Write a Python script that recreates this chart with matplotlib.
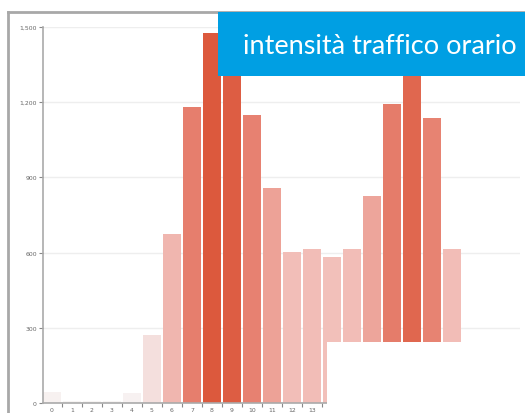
import matplotlib
matplotlib.use("Agg")
import matplotlib.pyplot as plt
from matplotlib.patches import Rectangle
from matplotlib.lines import Line2D
from matplotlib.colors import LinearSegmentedColormap
import numpy as np

hours = list(range(24))
values = [45, 8, 8, 8, 40, 270, 675, 1180, 1475, 1440, 1148, 856,
          604, 616, 584, 616, 824, 1193, 1360, 1136, 616, 200, 120, 60]
y_ticks = [0, 300, 600, 900, 1200, 1500]
y_tick_labels = ["0", "300", "600", "900", "1,200", "1,500"]
title = "intensità traffico orario"

W, H = 525, 414
fig = plt.figure(figsize=(W / 100, H / 100), dpi=100)
fig.patch.set_facecolor("white")

def fx(px):
    return px / W

def fy(py):
    return 1 - py / H

ax = fig.add_axes([fx(43), fy(404), fx(520) - fx(43), fy(28) - fy(404)])
ax.set_facecolor("white")

cmap = LinearSegmentedColormap.from_list(
    "heat", [(0.0, "#f7f4f4"), (0.18, "#f4dfdd"), (0.41, "#f2beb8"),
             (0.8, "#e67e6d"), (1.0, "#dc593d")])
vmax = max(values)
colors = [cmap(v / vmax) for v in values]
ax.bar(hours, values, width=0.9, color=colors, edgecolor="none", zorder=2)

ax.set_xlim(-0.45, 23.4)
ax.set_ylim(0, 1500)
ax.set_yticks(y_ticks)
ax.set_yticklabels(y_tick_labels)
ax.set_xticks(hours)
ax.set_xticklabels([str(h) for h in hours])
ax.set_xticks([h + 0.5 for h in hours[:-1]], minor=True)
ax.tick_params(axis="x", which="major", length=0, labelsize=4.4, colors="#666666", pad=3)
ax.tick_params(axis="x", which="minor", length=3, width=0.8, color="#888888")
ax.tick_params(axis="y", which="major", length=3, width=0.8, color="#888888",
               labelsize=4.4, labelcolor="#666666", pad=1.5)
for s in ["top", "right"]:
    ax.spines[s].set_visible(False)
for s in ["left", "bottom"]:
    ax.spines[s].set_color("#aaaaaa")
    ax.spines[s].set_linewidth(1.2)
ax.yaxis.grid(True, color="#eeeeee", linewidth=1.0, zorder=0)
ax.set_axisbelow(True)

# outer frame
fig.add_artist(Line2D([fx(8), fx(8)], [fy(13), fy(414)], color="#a8a8a8", linewidth=2))
fig.add_artist(Line2D([fx(8), fx(525)], [fy(13), fy(13)], color="#a8a8a8", linewidth=2))

# white cover at bottom right
fig.add_artist(Rectangle((fx(327), fy(414)), fx(525) - fx(327), fy(343) - fy(414),
                         facecolor="white", edgecolor="none", zorder=10))

# blue banner
fig.add_artist(Rectangle((fx(218), fy(77)), fx(525) - fx(218), fy(13) - fy(77),
                         facecolor="#009fe3", edgecolor="none", zorder=11))
fig.text(fx(243), fy(46), title, color="white", fontsize=19.5, family="Lato",
         fontweight="normal", ha="left", va="center", zorder=12)

fig.savefig("out.png", dpi=100, facecolor="white")
